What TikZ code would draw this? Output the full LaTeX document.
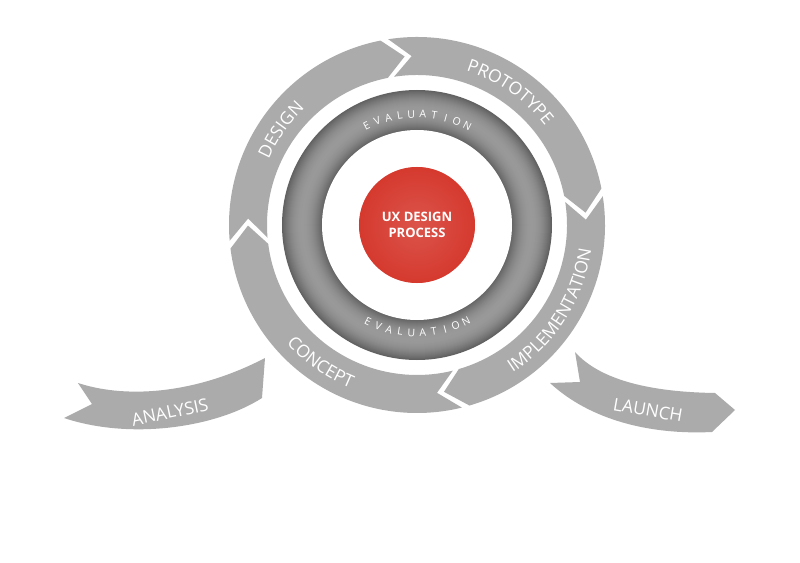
\documentclass[tikz,border=0pt]{standalone}
\usepackage{fontspec}
\setmainfont{Open Sans}
\usetikzlibrary{decorations.text}
\definecolor{segc}{HTML}{ABABAB}
\definecolor{redc}{HTML}{D63A2F}
\tikzset{
  segfill/.style={fill=segc},
  lbl/.style={text=white,font=\fontsize{17.5}{17.5}\selectfont},
  arclbl/.style={decorate,decoration={text along path,text align=center,
     text={|\fontsize{17.5}{17.5}\selectfont\color{white}|#1}}},
  evl/.style={text=white,font=\fontsize{10.5}{10.5}\selectfont,inner sep=0pt}
}
\newcommand\mysegment[2]{%
  \pgfmathsetmacro\sa{#1-1.2}\pgfmathsetmacro\sb{#2+1.2}%
  \pgfmathsetmacro\sbt{#2+1.2-7}\pgfmathsetmacro\sat{#1-1.2-7}%
  \fill[segfill] (\sa:188) arc[start angle=\sa,end angle=\sb,radius=188]
     -- (\sbt:169) -- (\sb:150) arc[start angle=\sb,end angle=\sa,radius=150]
     -- (\sat:169) -- cycle;}
\begin{document}
\begin{tikzpicture}[x=1pt,y=1pt]
\useasboundingbox[fill=white] (-417,-337) rectangle (383,225);
% outer segments
\mysegment{285}{186}
\mysegment{186}{100}
\mysegment{100}{10}
\mysegment{10}{-75}
% analysis and launch
\fill[segfill] (-339,-158) -- (-325,-179) -- (-353,-193)
  .. controls (-287,-215) and (-202,-203) .. (-155,-173) -- (-152,-133)
  .. controls (-217,-167) and (-287,-175) .. cycle;
\fill[segfill] (158,-127) -- (163,-157) -- (133,-158)
  .. controls (173,-195) and (233,-210) .. (295,-207) -- (318,-185) -- (298,-168)
  .. controls (233,-167) and (183,-155) .. cycle;
\node[lbl,rotate=12] (analysis) at (-247,-187) {ANALYSIS};
\node[lbl,rotate=-10] (launch) at (231,-185) {LAUNCH};
% arc labels
\path[arclbl=DESIGN] (185:162) arc[start angle=185,end angle=105,radius=162];
\path[arclbl=PROTOTYPE] (100:162) arc[start angle=100,end angle=10,radius=162];
\path[arclbl=CONCEPT] (185:176) arc[start angle=185,end angle=285,radius=176];
\path[arclbl=IMPLEMENTATION] (-80:176) arc[start angle=-80,end angle=15,radius=176];
% gray ring
\foreach \r in {135,134,...,95}{
  \pgfmathsetmacro\t{abs(\r-115)/20}
  \pgfmathsetmacro\k{40+22*\t*\t}
  \fill[black!\k] (0,0) circle (\r);
}
\fill[white] (0,0) circle (95);
% evaluation letters
\foreach \ch [count=\i] in {E,V,A,L,U,A,T,I,O,N}{
  \pgfmathsetmacro\ang{117-6*(\i-1)}
  \node[evl,rotate=\ang-90] at (\ang:111) {\ch};
  \pgfmathsetmacro\angb{243+6*(\i-1)}
  \node[evl,rotate=\angb-270] at (\angb:108) {\ch};
}
% red circle
\shade[inner color=redc!70!white,outer color=redc] (0,0) circle (58);
\fill[redc,opacity=0.55] (0,0) circle (58);
\node[text=white,font=\bfseries\fontsize{13}{16}\selectfont,align=center] (center) at (0,0) {UX DESIGN\\PROCESS};
\end{tikzpicture}
\end{document}
